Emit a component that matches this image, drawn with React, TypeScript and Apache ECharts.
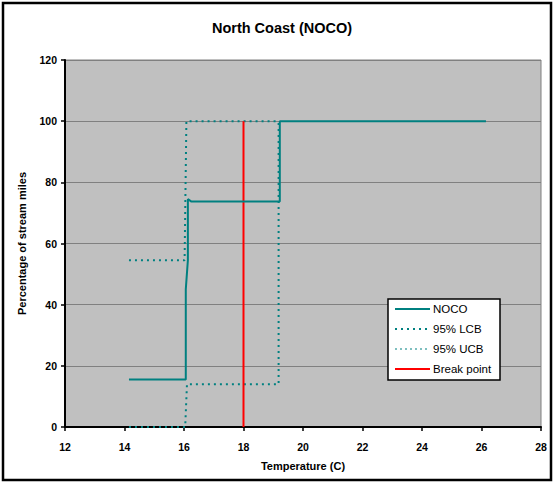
import React, { useEffect, useRef } from "react";
import * as echarts from "echarts";

const title = "North Coast (NOCO)";
const xTicks = [12, 14, 16, 18, 20, 22, 24, 26, 28];
const yTicks = [0, 20, 40, 60, 80, 100, 120];

const nocoX = [14.15, 16.06, 16.06, 16.13, 16.13, 16.25, 19.22, 19.22, 26.15];
const nocoY = [15.5, 15.5, 45, 54.5, 74.5, 73.7, 73.7, 100, 100];

const lcbX = [14.15, 16.02, 16.08, 19.2];
const lcbY = [54.5, 54.5, 100, 100];

const ucbX = [14.15, 16.04, 16.1, 19.18, 19.18];
const ucbY = [0, 0, 14, 14, 100];

const breakX = [18, 18];
const breakY = [0, 100];

const legendNames = ["NOCO", "95% LCB", "95% UCB", "Break point"];

const pairs = (xs: number[], ys: number[]) => xs.map((x, i) => [x, ys[i]]);

const font = "Liberation Sans, Arial, sans-serif";
const TEAL = "#008080";

export default function App() {
  const ref = useRef<HTMLDivElement>(null);
  useEffect(() => {
    if (!ref.current) return;
    const chart = echarts.init(ref.current, undefined, { renderer: "svg" });

    const legendStyles = [
      { stroke: TEAL, lineWidth: 2, lineDash: null as any },
      { stroke: TEAL, lineWidth: 2, lineDash: [2, 4] },
      { stroke: TEAL, lineWidth: 1.2, lineDash: [2, 3] },
      { stroke: "#FF0000", lineWidth: 2, lineDash: null as any },
    ];
    const rowY = [309, 329, 349, 369];
    const legendGraphics: any[] = [
      {
        type: "rect",
        shape: { x: 388, y: 299, width: 112, height: 81 },
        style: { fill: "#ffffff", stroke: "#000", lineWidth: 1.5 },
        silent: true,
        z: 10,
      },
    ];
    legendNames.forEach((name, i) => {
      legendGraphics.push({
        type: "line",
        shape: { x1: 395, y1: rowY[i], x2: 430, y2: rowY[i] },
        style: legendStyles[i],
        silent: true,
        z: 11,
      });
      legendGraphics.push({
        type: "text",
        x: 433,
        y: rowY[i],
        style: {
          text: name,
          fontFamily: font,
          fontSize: 11.5,
          fill: "#000",
          textVerticalAlign: "middle",
          verticalAlign: "middle",
        },
        silent: true,
        z: 11,
      });
    });

    chart.setOption({
      animation: false,
      backgroundColor: "#ffffff",
      title: {
        text: title,
        left: 277,
        textAlign: "center",
        top: 15,
        textStyle: { fontFamily: font, fontSize: 14.5, fontWeight: "bold", color: "#000" },
      },
      grid: {
        left: 65,
        right: 13,
        top: 60,
        bottom: 56,
        show: true,
        backgroundColor: "#C0C0C0",
        borderColor: "#808080",
        borderWidth: 1,
      },
      xAxis: {
        type: "value",
        min: 12,
        max: 28,
        interval: 2,
        name: "Temperature (C)",
        nameLocation: "middle",
        nameGap: 33,
        nameTextStyle: { fontFamily: font, fontSize: 11, fontWeight: "bold", color: "#000" },
        axisLine: { show: true, onZero: false, lineStyle: { color: "#000", width: 2 } },
        axisTick: { show: true, length: 4, lineStyle: { color: "#000", width: 1.5 } },
        axisLabel: {
          fontFamily: font,
          fontSize: 10.5,
          fontWeight: "bold",
          color: "#000",
          margin: 14,
          formatter: (v: number) => (xTicks.includes(v) ? String(v) : ""),
        },
        splitLine: { show: false },
      },
      yAxis: {
        type: "value",
        min: 0,
        max: 120,
        interval: 20,
        name: "Percentage of stream miles",
        nameLocation: "middle",
        nameGap: 38,
        nameTextStyle: { fontFamily: font, fontSize: 11, fontWeight: "bold", color: "#000" },
        axisLine: { show: true, lineStyle: { color: "#000", width: 2 } },
        axisTick: { show: true, length: 4, lineStyle: { color: "#000", width: 1.5 } },
        axisLabel: {
          fontFamily: font,
          fontSize: 10.5,
          fontWeight: "bold",
          color: "#000",
          margin: 8,
          formatter: (v: number) => (yTicks.includes(v) ? String(v) : ""),
        },
        splitLine: { show: true, lineStyle: { color: "#808080", width: 1 }, showMinLine: false },
      },
      series: [
        {
          name: "95% UCB",
          type: "line",
          data: pairs(ucbX, ucbY),
          symbol: "none",
          lineStyle: { color: TEAL, width: 2, type: [2, 4] },
          itemStyle: { color: TEAL },
          z: 2,
        },
        {
          name: "95% LCB",
          type: "line",
          data: pairs(lcbX, lcbY),
          symbol: "none",
          lineStyle: { color: TEAL, width: 2, type: [2, 4] },
          itemStyle: { color: TEAL },
          z: 2,
        },
        {
          name: "Break point",
          type: "line",
          data: pairs(breakX, breakY),
          symbol: "none",
          lineStyle: { color: "#FF0000", width: 2 },
          itemStyle: { color: "#FF0000" },
          z: 3,
        },
        {
          name: "NOCO",
          type: "line",
          data: pairs(nocoX, nocoY),
          symbol: "none",
          lineStyle: { color: TEAL, width: 2 },
          itemStyle: { color: TEAL },
          z: 4,
        },
      ],
      graphic: [
        ...legendGraphics,
        {
          type: "rect",
          shape: { x: 3, y: 3, width: 548, height: 477 },
          style: { fill: "none", stroke: "#000", lineWidth: 2.5 },
          silent: true,
          z: 20,
        },
      ],
    });
    return () => chart.dispose();
  }, []);
  return (
    <div
      ref={ref}
      style={{ position: "absolute", left: 0, top: 0, width: 554, height: 483 }}
    />
  );
}
